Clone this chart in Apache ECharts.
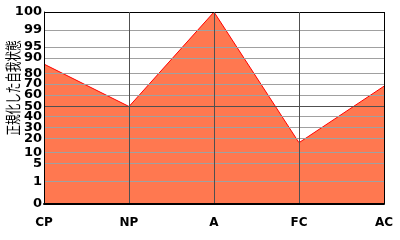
<!DOCTYPE html>
<html><head><meta charset="utf-8">
<script src="https://cdn.jsdelivr.net/npm/echarts@6/dist/echarts.min.js"></script>
<style>html,body{margin:0;padding:0;background:#fff}#c{width:400px;height:240px}</style>
</head><body><div id="c"></div>
<script>
// categories and values (normalized ego-state percentiles)
var categories = ['CP', 'NP', 'A', 'FC', 'AC'];
var values = [86, 50, 100, 17, 68];
// y tick labels (percentile) and their scale positions on the non-linear axis (0..192)
var yTickLabels = [0, 1, 5, 10, 20, 30, 40, 50, 60, 70, 80, 90, 95, 99, 100];
var yTickScale = [0, 22.5, 40.5, 51.5, 65.5, 76.7, 87.5, 97.5, 109, 120, 130.7, 146, 157, 174, 192];
var yTitle = '正規化した自我状態';

function toScale(v) {
  for (var i = 1; i < yTickLabels.length; i++) {
    if (v <= yTickLabels[i]) {
      var a = yTickLabels[i - 1], b = yTickLabels[i];
      return yTickScale[i - 1] + (v - a) / (b - a) * (yTickScale[i] - yTickScale[i - 1]);
    }
  }
  return yTickScale[yTickScale.length - 1];
}
function labelFor(pos) {
  for (var i = 0; i < yTickScale.length; i++) {
    if (Math.abs(yTickScale[i] - pos) < 0.01) return String(yTickLabels[i]);
  }
  return '';
}
var hColors = yTickLabels.map(function (t) {
  return (t === 0 || t === 100) ? '#000' : (t === 50 ? '#505050' : '#a0a0a0');
});
var vColors = categories.map(function (c, i) {
  return (i === 0 || i === categories.length - 1) ? '#000' : '#505050';
});

var chart = echarts.init(document.getElementById('c'), null, {renderer: 'canvas'});
chart.setOption({
  animation: false,
  grid: {left: 44, right: 16, top: 12, bottom: 36},
  xAxis: {
    type: 'category', data: categories, boundaryGap: false, z: 3,
    axisLine: {show: true, lineStyle: {color: '#000', width: 2}},
    axisTick: {show: false},
    axisLabel: {margin: 13, color: '#000', fontFamily: 'DejaVu Sans', fontWeight: 'bold', fontSize: 12},
    splitLine: {show: true, lineStyle: {color: vColors, width: 1}}
  },
  yAxis: {
    type: 'value', min: 0, max: yTickScale[yTickScale.length - 1], z: 3,
    axisLine: {show: true, lineStyle: {color: '#000', width: 1}},
    axisTick: {show: false, customValues: yTickScale},
    axisLabel: {
      customValues: yTickScale, margin: 2, color: '#000',
      fontFamily: 'DejaVu Sans', fontWeight: 'bold', fontSize: 13,
      formatter: function (v) { return labelFor(v); }
    },
    splitLine: {show: true, lineStyle: {color: hColors, width: 1}}
  },
  graphic: [{
    type: 'text', x: 13, y: 88, rotation: Math.PI / 2, scaleX: 0.66,
    style: {text: yTitle, fontSize: 16, fontFamily: 'Noto Sans CJK JP', fill: '#000', align: 'center', verticalAlign: 'middle'}
  }],
  series: [{
    type: 'line', z: 2,
    data: values.map(toScale),
    symbol: 'none', smooth: false,
    lineStyle: {color: '#ff0000', width: 1},
    areaStyle: {color: '#ff7850', opacity: 1}
  }]
});
</script></body></html>
